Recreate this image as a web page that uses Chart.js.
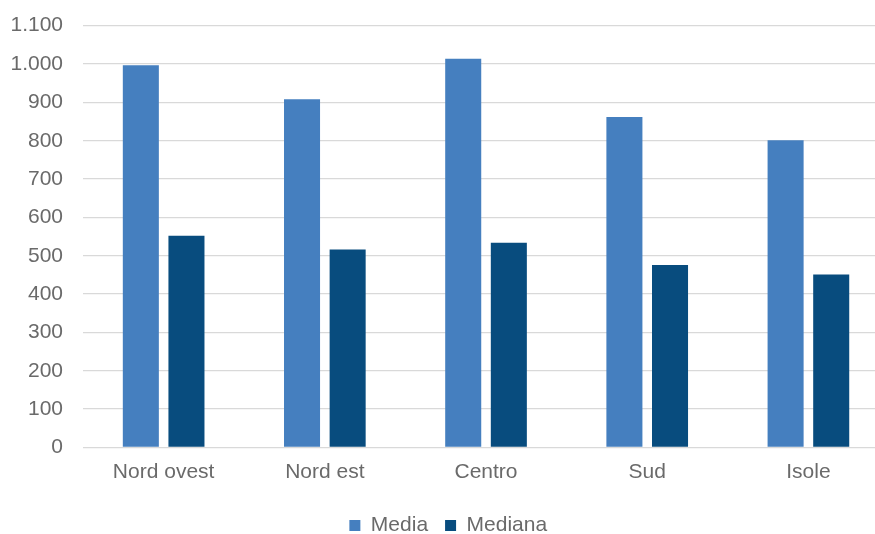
<!DOCTYPE html>
<html lang="it">
<head>
    <meta charset="UTF-8" />
    <script src="https://cdn.jsdelivr.net/npm/chart.js"></script>
    <title>Media e mediana per ripartizione</title>
    <style>
        html, body { margin: 0; padding: 0; background: #fff; overflow: hidden; }
        #box { position: absolute; left: 0; top: 0; width: 902px; height: 534px; }
    </style>
</head>
<body>
    <div id="box"><canvas id="grafico"></canvas></div>

    <script>
        // dati
        const categorie = ['Nord ovest', 'Nord est', 'Centro', 'Sud', 'Isole'];
        const media = [997, 908, 1014, 862, 801];
        const mediana = [552, 516, 534, 476, 451];
        const etichetteY = ['0', '100', '200', '300', '400', '500', '600', '700', '800', '900', '1.000', '1.100'];

        const grigioTesto = '#6a6a6a';
        const font = { family: '"Liberation Sans", Arial, sans-serif', size: 21 };

        const ctx = document.getElementById('grafico').getContext('2d');
        new Chart(ctx, {
            type: 'bar',
            data: {
                labels: categorie,
                datasets: [
                    { label: 'Media', data: media, backgroundColor: '#457fbf' },
                    { label: 'Mediana', data: mediana, backgroundColor: '#084c7e' }
                ]
            },
            options: {
                responsive: true,
                maintainAspectRatio: false,
                animation: false,
                categoryPercentage: 0.566,
                barPercentage: 0.79,
                // il grafico originale era un po' più largo ed è tagliato a destra
                layout: { padding: { left: 7.5, right: 13, top: 25.7, bottom: -12 } },
                plugins: {
                    tooltip: { enabled: false },
                    legend: {
                        position: 'bottom',
                        labels: {
                            boxWidth: 11,
                            boxHeight: 11,
                            padding: 17,
                            color: grigioTesto,
                            font: font
                        }
                    }
                },
                scales: {
                    x: {
                        grid: { display: false, drawTicks: false },
                        border: { display: false },
                        ticks: { color: grigioTesto, font: font, padding: 12.7 }
                    },
                    y: {
                        min: 0,
                        max: 1100,
                        border: { display: false },
                        // tacche invisibili: servono solo a distanziare le etichette
                        grid: { color: '#d9d9d9', lineWidth: 1.3, tickLength: 17, tickColor: 'rgba(0,0,0,0)' },
                        ticks: {
                            stepSize: 100,
                            padding: 3,
                            color: grigioTesto,
                            font: font,
                            callback: value => etichetteY[Math.round(value / 100)]
                        }
                    }
                }
            }
        });
    </script>
</body>
</html>
